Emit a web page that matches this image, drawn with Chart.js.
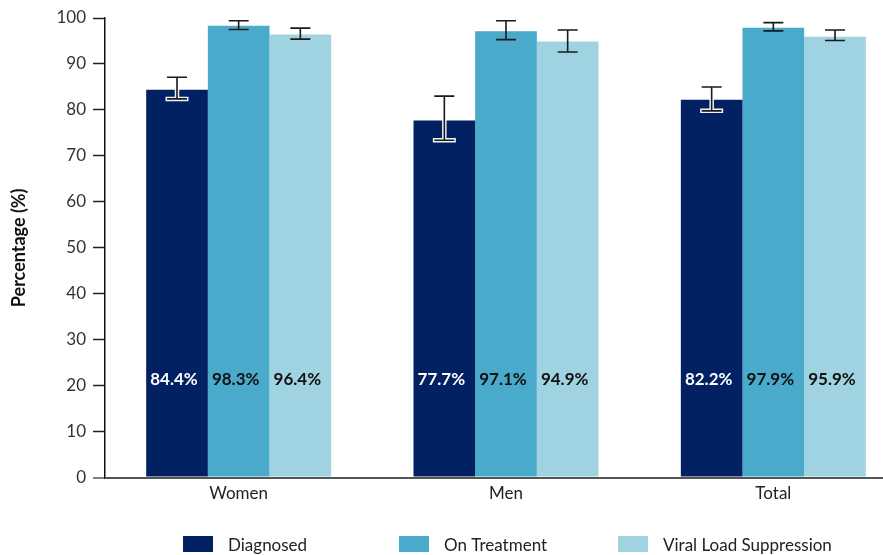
<!DOCTYPE html>
<html>
<head>
<meta charset="utf-8">
<script src="https://cdn.jsdelivr.net/npm/chart.js@4"></script>
<style>
  html, body { margin: 0; padding: 0; background: #fff; overflow: hidden; }
  #wrap { width: 883px; height: 555px; position: relative; overflow: hidden; }
  #c { display: block; }
</style>
</head>
<body>
<div id="wrap"><canvas id="c" width="907" height="555"></canvas></div>
<script>
// ---- data ----
const categories = ["Women", "Men", "Total"];
const seriesNames = ["Diagnosed", "On Treatment", "Viral Load Suppression"];
const diagnosed = [84.4, 77.7, 82.2];
const onTreatment = [98.3, 97.1, 97.9];
const viralSuppression = [96.4, 94.9, 95.9];
const diagnosedLow = [82.4, 73.4, 79.8];
const diagnosedHigh = [87.1, 83.0, 85.0];
const onTreatmentLow = [97.5, 95.3, 97.2];
const onTreatmentHigh = [99.4, 99.4, 99.0];
const viralLow = [95.4, 92.6, 95.1];
const viralHigh = [97.8, 97.4, 97.4];
const yTicks = [0, 10, 20, 30, 40, 50, 60, 70, 80, 90, 100];

const FONT = "Lato, 'Noto Sans', sans-serif";
const colors = ["#012163", "#4AAACC", "#A0D3E2"];

const errorBars = {
  id: "errorBars",
  afterDatasetsDraw(chart) {
    const ctx = chart.ctx;
    const y = chart.scales.y;
    chart.data.datasets.forEach((ds, di) => {
      const meta = chart.getDatasetMeta(di);
      meta.data.forEach((bar, i) => {
        const x = bar.x;
        const yl = y.getPixelForValue(ds.ciLow[i]);
        const yh = y.getPixelForValue(ds.ciHigh[i]);
        const half = 10;
        ctx.save();
        ctx.lineCap = "butt";
        if (di === 0) {
          ctx.strokeStyle = "rgba(255,255,255,0.95)";
          ctx.lineWidth = 4.5;
          ctx.beginPath();
          ctx.moveTo(x, yh); ctx.lineTo(x, yl);
          ctx.moveTo(x - half - 1.5, yl); ctx.lineTo(x + half + 1.5, yl);
          ctx.stroke();
        }
        ctx.strokeStyle = "#1a1a1a";
        ctx.lineWidth = 1.6;
        ctx.beginPath();
        ctx.moveTo(x, yh); ctx.lineTo(x, yl);
        ctx.moveTo(x - half, yh); ctx.lineTo(x + half, yh);
        ctx.moveTo(x - half, yl); ctx.lineTo(x + half, yl);
        ctx.stroke();
        ctx.restore();
      });
    });
  }
};

const valueLabels = {
  id: "valueLabels",
  afterDatasetsDraw(chart) {
    const ctx = chart.ctx;
    const y = chart.scales.y;
    const yPix = y.getPixelForValue(21.3);
    chart.data.datasets.forEach((ds, di) => {
      const meta = chart.getDatasetMeta(di);
      meta.data.forEach((bar, i) => {
        ctx.save();
        ctx.font = "bold 17px " + FONT;
        ctx.fillStyle = di === 0 ? "#ffffff" : "#111111";
        ctx.textAlign = "center";
        ctx.textBaseline = "middle";
        ctx.fillText(ds.data[i].toFixed(1) + "%", bar.x - 3, yPix);
        ctx.restore();
      });
    });
  }
};

const customLegend = {
  id: "customLegend",
  afterDraw(chart) {
    const ctx = chart.ctx;
    const starts = [183, 399, 618];
    const top = 536;
    chart.data.datasets.forEach((ds, di) => {
      ctx.save();
      ctx.fillStyle = ds.backgroundColor;
      ctx.fillRect(starts[di], top, 30, 16);
      ctx.font = "17px " + FONT;
      ctx.fillStyle = "#222";
      ctx.textAlign = "left";
      ctx.textBaseline = "middle";
      ctx.fillText(ds.label, starts[di] + 45, top + 10);
      ctx.restore();
    });
  }
};

const lows = [diagnosedLow, onTreatmentLow, viralLow];
const highs = [diagnosedHigh, onTreatmentHigh, viralHigh];
const values = [diagnosed, onTreatment, viralSuppression];

new Chart(document.getElementById("c"), {
  type: "bar",
  data: {
    labels: categories,
    datasets: seriesNames.map((n, i) => ({
      label: n,
      data: values[i],
      ciLow: lows[i],
      ciHigh: highs[i],
      backgroundColor: colors[i],
      borderWidth: 0,
      categoryPercentage: 0.692,
      barPercentage: 1.0
    }))
  },
  options: {
    responsive: false,
    animation: false,
    devicePixelRatio: 1,
    layout: { padding: { top: 18, right: 0, bottom: 45, left: 0 } },
    plugins: {
      legend: { display: false },
      tooltip: { enabled: false }
    },
    scales: {
      x: {
        grid: { display: false, drawTicks: false },
        border: { display: false },
        ticks: { font: { family: FONT, size: 17 }, color: "#222", padding: 6 }
      },
      y: {
        min: 0,
        max: 100,
        afterBuildTicks(scale) { scale.ticks = yTicks.map(v => ({ value: v })); },
        afterFit(scale) { scale.width = 105; },
        title: {
          display: true,
          text: "Percentage (%)",
          font: { family: FONT, size: 18, weight: "bold" },
          color: "#111",
          padding: { top: 8, bottom: 0 }
        },
        border: { display: true, color: "#111", width: 1.5 },
        grid: {
          drawOnChartArea: true,
          color: c => (c.tick && c.tick.value === 0) ? "#555" : "rgba(0,0,0,0)",
          lineWidth: c => (c.tick && c.tick.value === 0) ? 2 : 1,
          tickColor: c => (c.tick && c.tick.value === 0) ? "#555" : "#222",
          tickLength: 12,
          tickWidth: 1.5
        },
        ticks: { font: { family: FONT, size: 17 }, color: "#333", padding: 7 }
      }
    }
  },
  plugins: [errorBars, valueLabels, customLegend]
});
</script>
</body>
</html>
